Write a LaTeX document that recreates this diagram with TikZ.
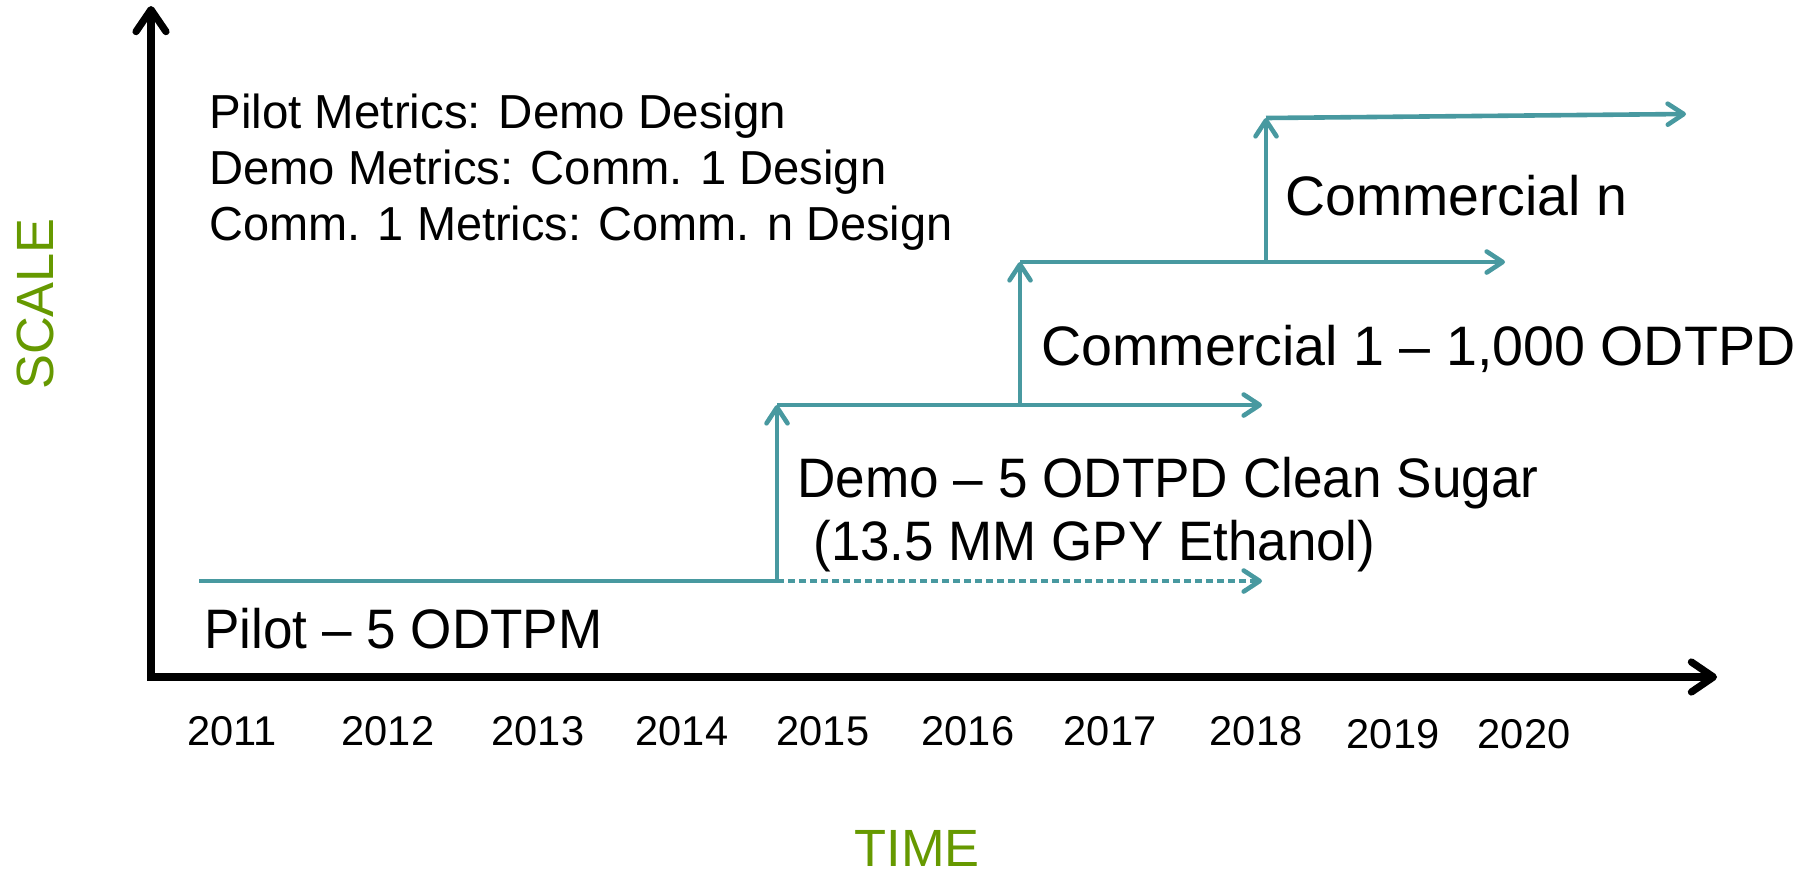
\documentclass[tikz,border=0pt]{standalone}
\usepackage{graphicx}
\usepackage{fontspec}
\setmainfont{Liberation Sans}
\usetikzlibrary{arrows.meta}
\definecolor{stageteal}{RGB}{72,153,160}
\definecolor{axisgreen}{RGB}{102,153,0}
% set a line of text to a given width, keeping its height
\newcommand{\fitwidth}[2]{\resizebox{#1}{\height}{#2}}
\begin{document}
\begin{tikzpicture}[x=0.5pt,y=-0.5pt,
  axisline/.style={line width=3.6pt, black,
    {Straight Barb[length=11pt,width=15pt,round]}-{Straight Barb[length=11pt,width=15pt,round]}},
  stage/.style={line width=2.3pt, draw=stageteal},
  stagearrow/.style={stage, -{Straight Barb[length=8pt,width=10.5pt,round]}},
  planned/.style={stagearrow, dash pattern=on 3.5pt off 2pt},
  note/.style={anchor=base west, inner sep=0pt, font=\fontsize{23.85pt}{28pt}\selectfont},
  label/.style={anchor=base west, inner sep=0pt, font=\fontsize{27.8pt}{33pt}\selectfont},
  year/.style={anchor=base, inner sep=0pt, font=\fontsize{20.8pt}{24pt}\selectfont},
  axistitle/.style={anchor=base, inner sep=0pt, text=axisgreen, font=\fontsize{26.2pt}{31pt}\selectfont}]
\useasboundingbox (0,0) rectangle (1804,874);

% axes
\coordinate (ytop) at (151,6);
\coordinate (origin) at (151,677);
\coordinate (xend) at (1717,677);
\draw[axisline] (ytop) -- (origin) -- (xend);

% stage coordinates
\coordinate (p0) at (199,581);
\coordinate (p1) at (777,581);
\coordinate (pend) at (1262,581);
\coordinate (d0) at (777,405);
\coordinate (d1) at (1020,405);
\coordinate (dend) at (1262,405);
\coordinate (c0) at (1020,262);
\coordinate (c1) at (1266,262);
\coordinate (cend) at (1505,262);
\coordinate (n0) at (1266,118);
\coordinate (nend) at (1686,114);

% stage steps
\draw[stage] (p0) -- (p1);
\draw[planned] (p1) -- (pend);
\draw[stagearrow] (p1) -- (d0);
\draw[stagearrow] (d0) -- (dend);
\draw[stagearrow] (d1) -- (c0);
\draw[stagearrow] (c0) -- (cend);
\draw[stagearrow] (c1) -- (n0);
\draw[stagearrow] (n0) -- (nend);

% metric notes
\node[note] (m1) at (209,128) {\fitwidth{288.5pt}{Pilot Metrics: Demo Design}};
\node[note] (m2) at (209,184) {\fitwidth{338.5pt}{Demo Metrics: Comm. 1 Design}};
\node[note] (m3) at (209,240) {\fitwidth{371.5pt}{Comm. 1 Metrics: Comm. n Design}};

% stage labels
\node[label] (lcn) at (1285,215) {\fitwidth{171pt}{Commercial n}};
\node[label] (lc1) at (1041,365) {\fitwidth{377pt}{Commercial 1 – 1,000 ODTPD}};
\node[label] (ldemo) at (797,497) {\fitwidth{370.5pt}{Demo – 5 ODTPD Clean Sugar}};
\node[label] (leth) at (813,560) {\fitwidth{281pt}{(13.5 MM GPY Ethanol)}};
\node[label] (lpilot) at (204,648) {\fitwidth{199pt}{Pilot – 5 ODTPM}};

% years
\node[year] (y2011) at (232,745) {2011};
\node[year] (y2012) at (388,745) {2012};
\node[year] (y2013) at (538,745) {2013};
\node[year] (y2014) at (682,745) {2014};
\node[year] (y2015) at (823,745) {2015};
\node[year] (y2016) at (968,745) {2016};
\node[year] (y2017) at (1110,745) {2017};
\node[year] (y2018) at (1256,745) {2018};
\node[year] (y2019) at (1393,748) {2019};
\node[year] (y2020) at (1524,748) {2020};

% axis titles
\node[axistitle, rotate=90] (scale) at (54,304) {SCALE};
\node[axistitle] (time) at (917,866) {TIME};
\end{tikzpicture}
\end{document}
